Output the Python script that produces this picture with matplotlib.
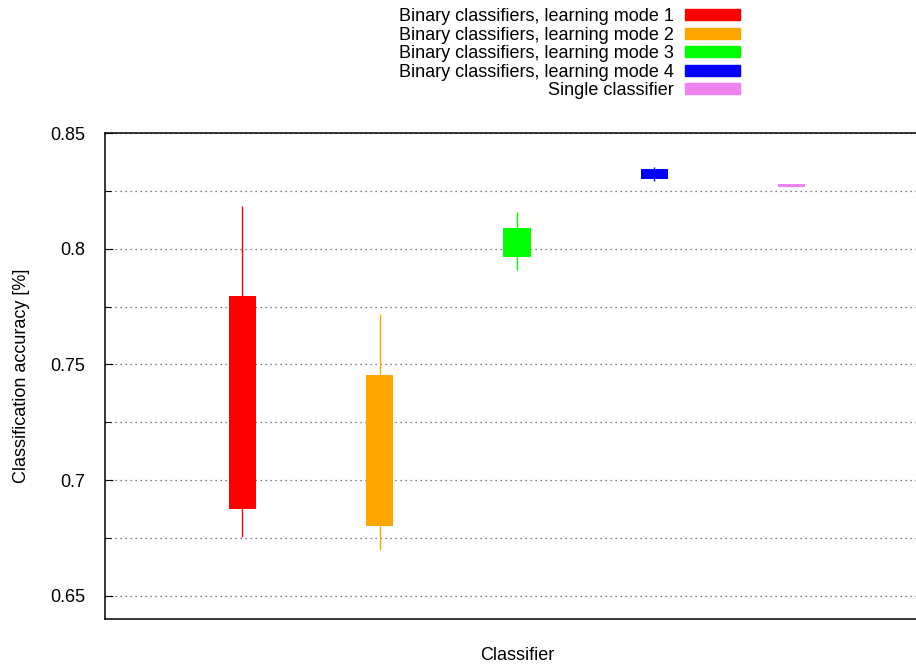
import matplotlib.pyplot as plt
from matplotlib.patches import Patch
from matplotlib.ticker import MultipleLocator, FormatStrFormatter

plt.rcParams['font.family'] = ['Liberation Sans', 'DejaVu Sans']

labels = ['Binary classifiers, learning mode 1',
          'Binary classifiers, learning mode 2',
          'Binary classifiers, learning mode 3',
          'Binary classifiers, learning mode 4',
          'Single classifier']
positions = [1, 2, 3, 4, 5]
whisker_low = [0.6754, 0.6698, 0.7910, 0.8293, 0.8267]
box_low = [0.6875, 0.6802, 0.7966, 0.8302, 0.8267]
box_high = [0.7797, 0.7453, 0.8090, 0.8345, 0.8280]
whisker_high = [0.8185, 0.7716, 0.8159, 0.8353, 0.8280]
colors = ['#ff0000', '#ffa500', '#00ff00', '#0000ff', '#ee82ee']

fig = plt.figure(figsize=(9.16, 6.69), dpi=100)
ax = fig.add_axes([105 / 916, 50 / 669, 824 / 916, 486 / 669])

# grid every 0.025, behind the candles
ax.yaxis.set_major_locator(MultipleLocator(0.05))
ax.yaxis.set_minor_locator(MultipleLocator(0.025))
ax.yaxis.set_major_formatter(FormatStrFormatter('%g'))
ax.grid(True, which='both', axis='y', color='#555555', linestyle=(0, (1, 3)), linewidth=0.9)
ax.set_axisbelow(True)

for i in range(len(positions)):
    ax.vlines(positions[i], whisker_low[i], whisker_high[i], color=colors[i], lw=1, zorder=2)
    h = max(box_high[i] - box_low[i], 0.0012)
    ax.bar(positions[i], h, bottom=box_low[i], width=0.2, color=colors[i], zorder=3)

ax.set_xlim(0, 6)
ax.set_ylim(0.64, 0.85)
ax.set_xticks([])
ax.tick_params(axis='y', which='major', direction='in', length=6, width=0.8, pad=14, labelsize=13)
ax.tick_params(axis='y', which='minor', direction='in', length=4, width=0.8)
for s in ax.spines.values():
    s.set_linewidth(1.1)
ax.set_xlabel('Classifier', fontsize=13, labelpad=20)
ax.set_ylabel('Classification accuracy [%]', fontsize=13, labelpad=15)

handles = [Patch(facecolor=c, edgecolor=c) for c in colors]
fig.legend(handles, labels, loc='upper right', bbox_to_anchor=(749 / 916, 1 + 1 / 669),
           markerfirst=False, frameon=False, fontsize=13, handlelength=3.05,
           handleheight=0.55, labelspacing=0.085, handletextpad=0.6, borderpad=0)

fig.savefig('out.png', dpi=100)
